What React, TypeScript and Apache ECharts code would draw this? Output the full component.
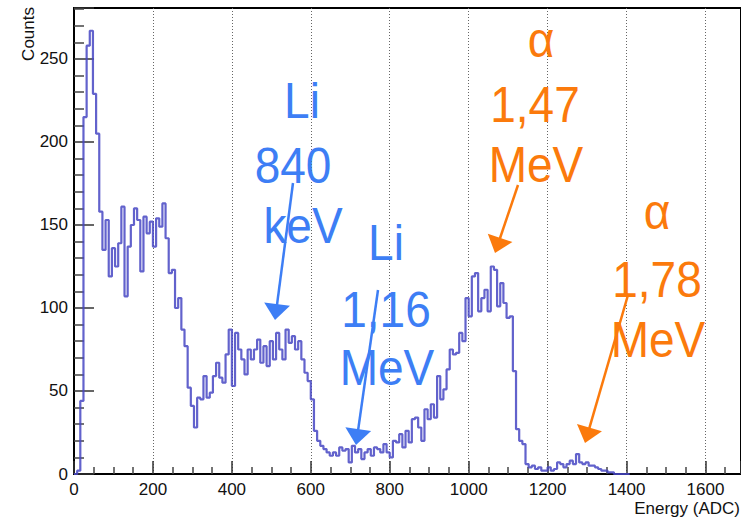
import React, { useEffect, useRef } from "react";
import * as echarts from "echarts";

const BIN_WIDTH = 8;
const counts = [
  0, 2, 44, 215, 258, 267, 229, 205, 158, 135, 153, 119, 136, 125, 139, 161, 107, 137, 150, 160,
  153, 122, 155, 145, 152, 137, 154, 149, 163, 142, 121, 123, 100, 106, 87, 77, 52, 41, 28, 46,
  45, 59, 46, 49, 59, 67, 58, 55, 72, 87, 53, 85, 75, 69, 60, 75, 69, 75, 81, 67,
  77, 65, 80, 69, 85, 75, 69, 87, 79, 83, 75, 80, 69, 61, 56, 45, 26, 20, 17, 15,
  13, 11, 13, 11, 16, 14, 15, 7, 17, 13, 15, 9, 13, 15, 11, 16, 15, 13, 18, 13,
  10, 20, 19, 24, 16, 26, 19, 33, 34, 28, 20, 39, 33, 42, 34, 59, 45, 51, 63, 75,
  72, 73, 85, 80, 106, 95, 119, 121, 98, 106, 111, 98, 125, 123, 101, 115, 103, 94, 95, 62,
  27, 20, 18, 6, 4, 5, 3, 4, 2, 2, 4, 2, 3, 7, 6, 4, 6, 8, 6, 12,
  7, 6, 7, 5, 5, 4, 3, 2, 2, 1, 1, 0, 0, 0, 0, 0,
];

const xAxisTitle = "Energy (ADC)";
const yAxisTitle = "Counts";

const BLUE = "#3d7ef5";
const ORANGE = "#fb7a0c";

const annotationLines = [
  { lines: ["Li", "840", "keV"], color: BLUE, xs: [302, 293, 303], ys: [101, 166, 226] },
  { lines: ["Li", "1,16", "MeV"], color: BLUE, xs: [386, 386, 387], ys: [243, 310, 368] },
  { lines: ["α", "1,47", "MeV"], color: ORANGE, xs: [541, 535, 536], ys: [40, 105, 165] },
  { lines: ["α", "1,78", "MeV"], color: ORANGE, xs: [657, 657, 658], ys: [212, 280, 340] },
];

const arrows = [
  { from: [293, 183], to: [275, 320], color: BLUE },
  { from: [378, 290], to: [356, 445], color: BLUE },
  { from: [518, 185], to: [495, 253], color: ORANGE },
  { from: [628, 295], to: [585, 443], color: ORANGE },
];

function buildArrow(a: { from: number[]; to: number[]; color: string }) {
  const [x1, y1] = a.from;
  const [x2, y2] = a.to;
  const dx = x2 - x1;
  const dy = y2 - y1;
  const len = Math.sqrt(dx * dx + dy * dy);
  const ux = dx / len;
  const uy = dy / len;
  const hl = 16;
  const hw = 13;
  const bx = x2 - ux * hl;
  const by = y2 - uy * hl;
  const px = -uy;
  const py = ux;
  return [
    {
      type: "line",
      shape: { x1, y1, x2: bx + ux * 2, y2: by + uy * 2 },
      style: { stroke: a.color, lineWidth: 2.5 },
      silent: true,
      z: 100,
    },
    {
      type: "polygon",
      shape: {
        points: [
          [x2, y2],
          [bx + px * hw, by + py * hw],
          [bx - px * hw, by - py * hw],
        ],
      },
      style: { fill: a.color },
      silent: true,
      z: 100,
    },
  ];
}

export default function App() {
  const ref = useRef<HTMLDivElement>(null);
  useEffect(() => {
    if (!ref.current) return;
    const chart = echarts.init(ref.current, undefined, { renderer: "svg" });
    const data: number[][] = counts.map((v, i) => [i * BIN_WIDTH, v]);
    data.push([counts.length * BIN_WIDTH, 0]);

    const graphics: any[] = [];
    annotationLines.forEach((g) => {
      g.lines.forEach((t, i) => {
        graphics.push({
          type: "text",
          x: g.xs[i],
          y: g.ys[i],
          scaleY: 1.08,
          silent: true,
          z: 100,
          style: {
            text: t,
            fill: g.color,
            font: '46px "Liberation Sans", Arial, sans-serif',
            textAlign: "center",
            textVerticalAlign: "middle",
          },
        });
      });
    });
    arrows.forEach((a) => graphics.push(...buildArrow(a)));
    graphics.push({
      type: "text",
      x: 28,
      y: 7,
      rotation: Math.PI / 2,
      silent: true,
      style: {
        text: yAxisTitle,
        fill: "#111",
        font: '17px "Liberation Sans", Arial, sans-serif',
        textAlign: "right",
        textVerticalAlign: "middle",
      },
    });
    graphics.push({
      type: "text",
      x: 740,
      y: 508,
      silent: true,
      style: {
        text: xAxisTitle,
        fill: "#111",
        font: '17px "Liberation Sans", Arial, sans-serif',
        textAlign: "right",
        textVerticalAlign: "middle",
      },
    });

    chart.setOption({
      animation: false,
      grid: {
        left: 74,
        top: 8,
        right: -10,
        bottom: 45,
        show: true,
        borderColor: "#000",
        borderWidth: 2,
      },
      xAxis: {
        type: "value",
        min: 0,
        max: 1690,
        interval: 200,
        axisLine: { lineStyle: { color: "#000", width: 2 } },
        axisTick: { inside: true, length: 13, lineStyle: { color: "#333", width: 1.5 } },
        minorTick: { show: true, splitNumber: 4, length: 7, lineStyle: { color: "#444", width: 1.5 } },
        splitLine: { show: true, lineStyle: { color: "#666", type: [1, 2], width: 1 } },
        axisLabel: {
          fontSize: 17,
          color: "#111",
          margin: 7,
          fontFamily: "Liberation Sans",
          showMaxLabel: false,
          formatter: (v: number) => String(v),
        },
      },
      yAxis: {
        type: "value",
        min: 0,
        max: 280.7,
        interval: 50,
        axisLine: { show: true, lineStyle: { color: "#000", width: 2 } },
        axisTick: { show: true, inside: true, length: 20, lineStyle: { color: "#333", width: 1.5 } },
        minorTick: { show: true, splitNumber: 5, length: 10, lineStyle: { color: "#444", width: 1.5 } },
        splitLine: { show: false },
        axisLabel: {
          fontSize: 17,
          color: "#111",
          margin: 6,
          fontFamily: "Liberation Sans",
          showMaxLabel: false,
          formatter: (v: number) => String(v),
        },
      },
      series: [
        {
          type: "line",
          step: "end",
          data,
          showSymbol: false,
          silent: true,
          lineStyle: { color: "rgba(70,70,195,0.85)", width: 2.2 },
        },
      ],
      graphic: graphics,
    });
    return () => chart.dispose();
  }, []);
  return (
    <div
      ref={ref}
      style={{ position: "absolute", left: 0, top: 0, width: 741, height: 519, background: "#fff" }}
    />
  );
}
